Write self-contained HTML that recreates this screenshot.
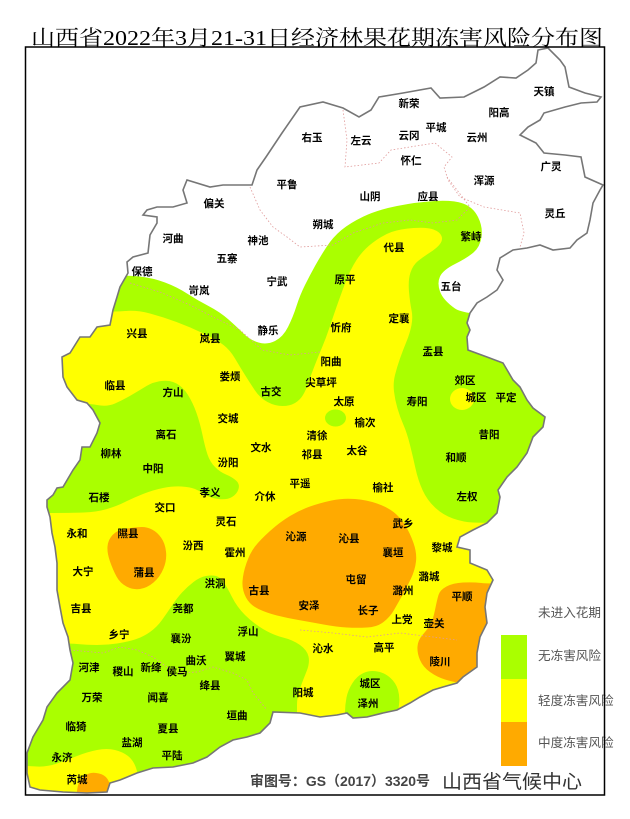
<!DOCTYPE html>
<html><head><meta charset="utf-8">
<style>
html,body{margin:0;padding:0;background:#fff;width:630px;height:819px;overflow:hidden;}
svg{display:block;}
.lb{font-family:"Liberation Sans","Noto Sans CJK SC",sans-serif;font-size:10.5px;font-weight:bold;fill:#000;text-anchor:middle;dominant-baseline:central;}
.lg{font-family:"Liberation Sans","Noto Sans CJK SC",sans-serif;font-size:12.6px;fill:#555;}
</style></head>
<body>
<svg width="630" height="819" viewBox="0 0 630 819" xmlns="http://www.w3.org/2000/svg">
<defs>
<clipPath id="prov">
<path id="outline" d="M257,170 L266,157 L282,133 L300,107 L323,102 L343,108 L359,117 L371,110 L379,97 L403,93 L431,88 L440,98 L464,97 L484,87 L500,77 L516,78 L528,70 L536,63 L538,50 L548,48 L560,60 L565,67 L569,87 L585,93 L601,97 L597,102 L581,103 L565,107 L544,113 L540,120 L528,127 L520,135 L536,143 L544,153 L565,155 L581,157 L585,177 L603,185 L600,190 L593,203 L590,220 L587,233 L577,240 L570,248 L553,250 L540,245 L527,248 L513,250 L500,258 L497,270 L503,280 L497,290 L487,297 L477,303 L470,313 L467,323 L470,330 L467,337 L468,350 L487,357 L503,363 L513,380 L520,387 L527,400 L533,408 L545,417 L543,427 L533,437 L527,453 L517,467 L507,477 L498,490 L500,497 L497,513 L487,523 L473,530 L460,537 L457,547 L470,550 L470,563 L487,570 L493,580 L487,593 L485,607 L487,623 L480,637 L477,653 L477,667 L463,677 L457,683 L443,687 L433,690 L420,697 L410,703 L397,710 L383,713 L367,717 L353,718 L347,713 L337,715 L320,717 L300,713 L273,712 L270,723 L260,733 L247,737 L233,740 L220,747 L207,757 L193,763 L173,767 L153,768 L137,773 L120,780 L110,783 L107,792 L87,793 L63,792 L40,790 L30,787 L27,773 L27,753 L33,737 L43,720 L47,707 L57,693 L70,680 L73,663 L70,650 L68,637 L63,623 L60,607 L57,590 L57,563 L55,547 L52,533 L50,517 L47,507 L47,500 L53,495 L57,488 L63,487 L73,470 L80,460 L82,447 L90,447 L97,433 L100,423 L93,410 L87,403 L77,400 L67,387 L63,377 L62,357 L70,353 L80,337 L90,337 L97,327 L110,325 L113,310 L117,297 L120,287 L128,273 L127,262 L133,257 L148,253 L150,235 L157,223 L157,217 L143,215 L147,210 L157,207 L173,207 L187,203 L183,190 L187,180 L210,187 L223,185 L252,185 Z"/>
</clipPath>
</defs>

<text x="31" y="45" textLength="572" lengthAdjust="spacingAndGlyphs" style="font-family:'Liberation Serif','Noto Serif CJK SC',serif;font-size:21px;fill:#000;">山西省2022年3月21-31日经济林果花期冻害风险分布图</text>

<g clip-path="url(#prov)">
  <rect x="0" y="0" width="630" height="819" fill="#ffff00"/>
  <path class="sm" fill="#aaff00" d="M0,312 L113,312 L137,310 L163,317 L190,327 L217,340 L230,350 L240,367 L250,383 L260,398 L275,406 L290,406 L300,400 L306,390 L311,375 L318,357 L326,338 L333,317 L340,297 L350,270 L363,250 L383,235 L400,229 L427,227 L440,232 L443,240 L437,248 L423,257 L413,265 L408,280 L410,303 L413,317 L410,333 L403,350 L397,367 L393,383 L395,400 L400,417 L407,433 L413,457 L418,480 L427,500 L443,515 L463,522 L483,523 L630,523 L630,0 L0,0 Z"/>
  <path class="sm" fill="#ffffff" d="M0,275 L127,275 L153,278 L177,287 L197,300 L220,312 L237,327 L250,340 L267,345 L283,337 L293,317 L300,295 L310,275 L320,257 L333,237 L350,223 L377,210 L417,202 L453,200 L473,207 L483,227 L480,247 L467,258 L443,270 L437,283 L443,300 L467,317 L630,317 L630,0 L0,0 Z"/>
  <path class="sm" fill="#aaff00" d="M0,403 L87,403 L107,407 L123,400 L140,390 L153,382 L170,380 L183,387 L193,403 L200,423 L205,447 L210,462 L220,472 L232,477 L240,484 L237,494 L227,500 L210,498 L200,491 L190,487 L173,486 L153,490 L133,498 L117,506 L97,512 L70,513 L0,513 Z"/>
  <path class="sm" fill="#aaff00" d="M0,643 L67,643 L87,645 L107,645 L127,642 L143,637 L157,627 L167,613 L177,598 L187,587 L200,577 L212,575 L220,577 L227,587 L237,607 L253,623 L273,635 L293,640 L307,650 L310,663 L303,680 L297,697 L297,713 L297,760 L297,819 L0,819 Z"/>
  <path class="sm" fill="#ffff00" d="M0,765 L27,766 L47,767 L67,760 L87,752 L107,748 L123,752 L133,760 L138,773 L142,800 L145,819 L0,819 Z"/>
  <path class="sm" fill="#aaff00" d="M345,819 L345,720 L345,705 L348,690 L357,676 L370,670 L385,673 L396,683 L400,697 L398,712 L398,725 L398,819 Z"/>
  <ellipse cx="335.5" cy="418" rx="10.5" ry="8.5" fill="#aaff00"/>
  <ellipse cx="462" cy="399" rx="12" ry="11" fill="#ffff00"/>
  <path class="sm" fill="#ffaa00" d="M260,540 L250,553 L243,573 L242,590 L250,605 L267,613 L287,618 L310,622 L337,627 L357,628 L377,627 L390,617 L398,603 L407,587 L415,570 L417,553 L410,533 L400,517 L387,507 L367,500 L343,498 L320,503 L300,510 L280,522 Z"/>
  <path class="sm" fill="#ffaa00" d="M137,527 L117,530 L108,540 L107,553 L113,570 L120,583 L133,590 L147,588 L160,577 L167,560 L165,543 L157,532 L147,527 Z"/>
  <path class="sm" fill="#ffaa00" d="M440,590 L453,583 L473,582 L490,584 L630,584 L630,690 L463,683 L453,682 L437,677 L423,667 L417,653 L418,640 L427,630 L433,620 L437,600 Z"/>
  <path class="sm" fill="#ffaa00" d="M75,819 L76,800 L78,782 L85,775 L93,772 L105,775 L110,783 L113,800 L114,819 Z"/>
  <g fill="none" stroke="#e09a9a" stroke-width="0.8" stroke-dasharray="1.5 2">
    <polyline points="343,110 347,140 345,167 379,163 391,150 435,143 452,157 444,167 448,180 460,197 484,207 520,213 524,233 520,247"/>
    <polyline points="250,187 260,210 273,227 287,237 300,247 333,245 353,233 383,223 410,220 433,223 457,220 470,207 457,190 447,177"/>
    <polyline points="70,650 103,653 120,647 137,650 153,657 167,667 180,673 197,672 213,667 233,673 247,680 253,693 267,710"/>
    <polyline points="130,283 160,292 190,305 215,318 240,330 262,350 290,355 320,352"/>
    <polyline points="300,630 333,633 367,637 400,633 433,637 457,640"/>
  </g>
</g>
<use href="#outline" fill="none" stroke="#767676" stroke-width="1.6"/>

<g class="lb">
<text x="544" y="92">天镇</text>
<text x="409" y="104">新荣</text>
<text x="499" y="113">阳高</text>
<text x="312" y="138">右玉</text>
<text x="361" y="141">左云</text>
<text x="409" y="136">云冈</text>
<text x="436" y="128">平城</text>
<text x="477" y="138">云州</text>
<text x="411" y="161">怀仁</text>
<text x="551" y="167">广灵</text>
<text x="484" y="181">浑源</text>
<text x="287" y="185">平鲁</text>
<text x="370" y="197">山阴</text>
<text x="428" y="197">应县</text>
<text x="214" y="204">偏关</text>
<text x="555" y="214">灵丘</text>
<text x="323" y="225">朔城</text>
<text x="173" y="239">河曲</text>
<text x="258" y="241">神池</text>
<text x="227" y="259">五寨</text>
<text x="142" y="272">保德</text>
<text x="277" y="282">宁武</text>
<text x="199" y="291">岢岚</text>
<text x="394" y="248">代县</text>
<text x="471" y="237">繁峙</text>
<text x="345" y="280">原平</text>
<text x="451" y="287">五台</text>
<text x="137" y="334">兴县</text>
<text x="210" y="339">岚县</text>
<text x="268" y="331">静乐</text>
<text x="341" y="328">忻府</text>
<text x="399" y="319">定襄</text>
<text x="433" y="352">盂县</text>
<text x="331" y="362">阳曲</text>
<text x="115" y="386">临县</text>
<text x="230" y="377">娄烦</text>
<text x="271" y="392">古交</text>
<text x="321" y="383">尖草坪</text>
<text x="465" y="381">郊区</text>
<text x="173" y="393">方山</text>
<text x="344" y="402">太原</text>
<text x="417" y="402">寿阳</text>
<text x="476" y="398">城区</text>
<text x="506" y="398">平定</text>
<text x="228" y="419">交城</text>
<text x="365" y="423">榆次</text>
<text x="166" y="435">离石</text>
<text x="317" y="436">清徐</text>
<text x="489" y="435">昔阳</text>
<text x="261" y="448">文水</text>
<text x="111" y="454">柳林</text>
<text x="312" y="455">祁县</text>
<text x="357" y="451">太谷</text>
<text x="456" y="458">和顺</text>
<text x="228" y="463">汾阳</text>
<text x="153" y="469">中阳</text>
<text x="300" y="484">平遥</text>
<text x="383" y="488">榆社</text>
<text x="467" y="497">左权</text>
<text x="210" y="493">孝义</text>
<text x="265" y="497">介休</text>
<text x="99" y="498">石楼</text>
<text x="165" y="508">交口</text>
<text x="226" y="522">灵石</text>
<text x="403" y="524">武乡</text>
<text x="77" y="534">永和</text>
<text x="128" y="534">隰县</text>
<text x="296" y="537">沁源</text>
<text x="349" y="539">沁县</text>
<text x="193" y="546">汾西</text>
<text x="235" y="553">霍州</text>
<text x="393" y="553">襄垣</text>
<text x="442" y="548">黎城</text>
<text x="83" y="572">大宁</text>
<text x="144" y="573">蒲县</text>
<text x="215" y="584">洪洞</text>
<text x="259" y="591">古县</text>
<text x="183" y="609">尧都</text>
<text x="309" y="606">安泽</text>
<text x="356" y="580">屯留</text>
<text x="403" y="591">潞州</text>
<text x="429" y="577">潞城</text>
<text x="462" y="597">平顺</text>
<text x="368" y="611">长子</text>
<text x="402" y="620">上党</text>
<text x="434" y="624">壶关</text>
<text x="81" y="609">吉县</text>
<text x="119" y="635">乡宁</text>
<text x="181" y="639">襄汾</text>
<text x="248" y="632">浮山</text>
<text x="323" y="649">沁水</text>
<text x="384" y="648">高平</text>
<text x="440" y="662">陵川</text>
<text x="196" y="661">曲沃</text>
<text x="235" y="657">翼城</text>
<text x="89" y="668">河津</text>
<text x="123" y="672">稷山</text>
<text x="151" y="668">新绛</text>
<text x="177" y="672">侯马</text>
<text x="210" y="686">绛县</text>
<text x="370" y="684">城区</text>
<text x="303" y="693">阳城</text>
<text x="368" y="704">泽州</text>
<text x="92" y="698">万荣</text>
<text x="158" y="698">闻喜</text>
<text x="237" y="716">垣曲</text>
<text x="76" y="727">临猗</text>
<text x="168" y="729">夏县</text>
<text x="132" y="743">盐湖</text>
<text x="62" y="758">永济</text>
<text x="172" y="756">平陆</text>
<text x="77" y="780">芮城</text>
</g>

<rect x="501" y="635" width="26" height="44" fill="#aaff00"/>
<rect x="501" y="679" width="26" height="43" fill="#ffff00"/>
<rect x="501" y="722" width="26" height="44" fill="#ffaa00"/>
<text class="lg" x="538" y="617">未进入花期</text>
<text class="lg" x="538" y="660">无冻害风险</text>
<text class="lg" x="538" y="705">轻度冻害风险</text>
<text class="lg" x="538" y="747">中度冻害风险</text>

<text x="250" y="786" textLength="180" lengthAdjust="spacingAndGlyphs" style="font-family:'Liberation Sans','Noto Sans CJK SC',sans-serif;font-size:14px;font-weight:bold;fill:#444;">审图号：GS（2017）3320号</text>
<text x="442" y="788" textLength="140" lengthAdjust="spacingAndGlyphs" style="font-family:'Liberation Sans','Noto Sans CJK SC',sans-serif;font-size:19px;fill:#333;">山西省气候中心</text>

<rect x="25.5" y="47" width="579" height="748" fill="none" stroke="#000" stroke-width="1.5"/>
</svg>
<script>
(function(){
  var ps=document.querySelectorAll('path.sm');
  function mid(a,b){return ((a[0]+b[0])/2).toFixed(1)+','+((a[1]+b[1])/2).toFixed(1);}
  function edge(a){return a[0]<=0||a[0]>=630||a[1]<=0||a[1]>=819;}
  for(var k=0;k<ps.length;k++){
    var p=ps[k];
    var nums=p.getAttribute('d').match(/-?\d+(\.\d+)?/g).map(Number);
    var pts=[];
    for(var i=0;i+1<nums.length;i+=2)pts.push([nums[i],nums[i+1]]);
    var n=pts.length; if(n<3)continue;
    var d='M'+mid(pts[n-1],pts[0]);
    for(var j=0;j<n;j++){
      var a=pts[j],b=pts[(j+1)%n];
      if(edge(a)){d+=' L'+a[0]+','+a[1]+' L'+mid(a,b);}
      else{d+=' Q'+a[0]+','+a[1]+' '+mid(a,b);}
    }
    d+='Z';
    p.setAttribute('d',d);
  }
})();
</script>
</body></html>
